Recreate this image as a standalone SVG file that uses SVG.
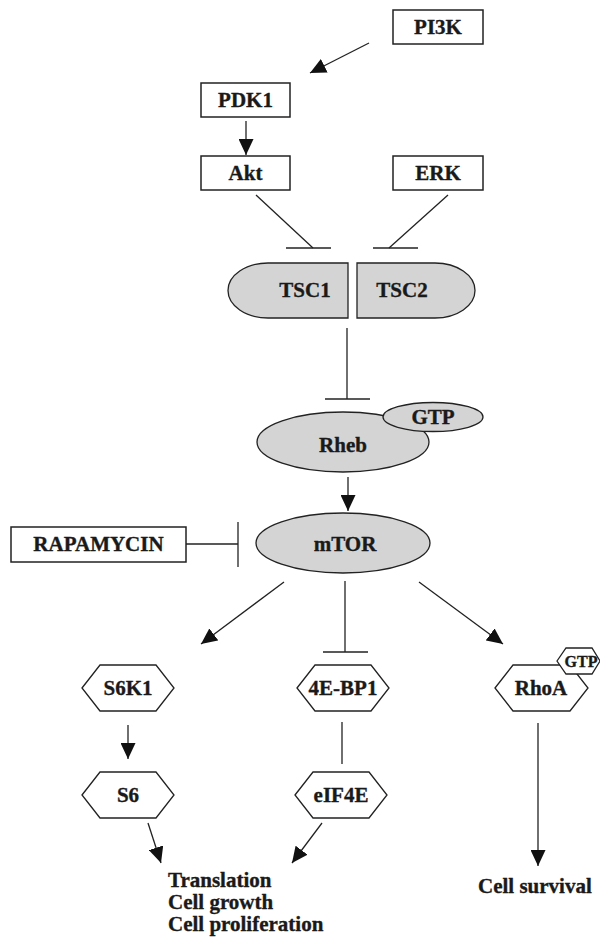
<svg xmlns="http://www.w3.org/2000/svg" width="600" height="937" viewBox="0 0 600 937">
<defs>
<style>
text{font-family:"Liberation Serif","Times New Roman",serif;font-weight:bold;font-size:21px;fill:#1a1a1a;stroke:#1a1a1a;stroke-width:0.35;text-anchor:middle}
.box{fill:#fff;stroke:#222;stroke-width:1.5}
.blob{fill:#d4d4d4;stroke:#222;stroke-width:1.3}
.hex{fill:#fff;stroke:#222;stroke-width:1.3}
.ln{stroke:#222;stroke-width:1.3;fill:none}
.arr{stroke:#222;stroke-width:1.3;fill:none;marker-end:url(#ah)}
.out{text-anchor:start}
</style>
<marker id="ah" markerWidth="17" markerHeight="15" refX="16" refY="7.5" orient="auto" markerUnits="userSpaceOnUse">
<path d="M0,0 L16,7.5 L0,15 Z" fill="#111"/>
</marker>
</defs>
<g id="connectors">
<line class="arr" x1="369" y1="43" x2="310" y2="73"/>
<line class="arr" x1="246" y1="121" x2="246" y2="155"/>
<line class="ln" x1="256" y1="195" x2="313" y2="248"/>
<line class="ln" x1="286" y1="248" x2="331" y2="248"/>
<line class="ln" x1="448" y1="195" x2="389" y2="248"/>
<line class="ln" x1="373" y1="248" x2="418" y2="248"/>
<line class="ln" x1="347" y1="328" x2="347" y2="399"/>
<line class="ln" x1="325" y1="399" x2="370" y2="399"/>
<line class="arr" x1="348" y1="477" x2="348" y2="511"/>
<line class="ln" x1="186" y1="544" x2="238" y2="544"/>
<line class="ln" x1="238" y1="522" x2="238" y2="567"/>
<line class="arr" x1="284" y1="582" x2="201" y2="644"/>
<line class="ln" x1="345" y1="581" x2="345" y2="652"/>
<line class="ln" x1="323" y1="652" x2="368" y2="652"/>
<line class="arr" x1="419" y1="582" x2="503" y2="644"/>
<line class="arr" x1="128" y1="725" x2="128" y2="759"/>
<line class="ln" x1="342" y1="722" x2="342" y2="764"/>
<line class="arr" x1="148" y1="823" x2="161" y2="863"/>
<line class="arr" x1="322" y1="823" x2="292" y2="863"/>
<line class="arr" x1="538" y1="723" x2="538" y2="866"/>
</g>
<g id="PI3K"><rect class="box" x="393" y="10" width="90" height="34"/><text x="438" y="34">PI3K</text></g>
<g id="PDK1"><rect class="box" x="201" y="83" width="89" height="34"/><text x="245.5" y="107">PDK1</text></g>
<g id="Akt"><rect class="box" x="201" y="156" width="89" height="34"/><text x="245.5" y="180">Akt</text></g>
<g id="ERK"><rect class="box" x="393" y="156" width="90" height="34"/><text x="438" y="180">ERK</text></g>
<g id="TSC1"><path class="blob" d="M348,263 L268,263 A40,27.5 0 0 0 268,318 L348,318 Z"/><text x="305" y="297">TSC1</text></g>
<g id="TSC2"><path class="blob" d="M357,263 L435,263 A40,27.5 0 0 1 435,318 L357,318 Z"/><text x="402" y="297">TSC2</text></g>
<g id="Rheb"><ellipse class="blob" cx="343" cy="442" rx="86" ry="30"/><text x="343" y="452">Rheb</text></g>
<g id="GTP1"><ellipse class="blob" cx="433" cy="417" rx="50" ry="14.5"/><text x="433" y="424">GTP</text></g>
<g id="mTOR"><ellipse class="blob" cx="343" cy="543" rx="87" ry="30"/><text x="345" y="551">mTOR</text></g>
<g id="RAPAMYCIN"><rect class="box" x="11" y="527" width="175" height="35"/><text x="98.5" y="551">RAPAMYCIN</text></g>
<g id="S6K1"><polygon class="hex" points="82,688 100,665 156,665 174,688 156,711 100,711"/><text x="128" y="695">S6K1</text></g>
<g id="4E-BP1"><polygon class="hex" points="297,688 315,665 371,665 389,688 371,711 315,711"/><text x="343" y="695">4E-BP1</text></g>
<g id="RhoA"><polygon class="hex" points="495,688 513,665 570,665 588,688 570,711 513,711"/><text x="541" y="695">RhoA</text></g>
<g id="GTP2"><polygon class="hex" points="557,661 566,648 592,648 600,661 592,674 566,674"/><text x="581" y="667" style="font-size:16px">GTP</text></g>
<g id="S6"><polygon class="hex" points="82,795 100,772 156,772 174,795 156,818 100,818"/><text x="128" y="802">S6</text></g>
<g id="eIF4E"><polygon class="hex" points="295,795 313,772 369,772 387,795 369,818 313,818"/><text x="341" y="802">eIF4E</text></g>
<g id="outcomes">
<text class="out" x="168" y="887">Translation</text>
<text class="out" x="168" y="909">Cell growth</text>
<text class="out" x="168" y="931">Cell proliferation</text>
<text class="out" x="478" y="893">Cell survival</text>
</g>
</svg>
